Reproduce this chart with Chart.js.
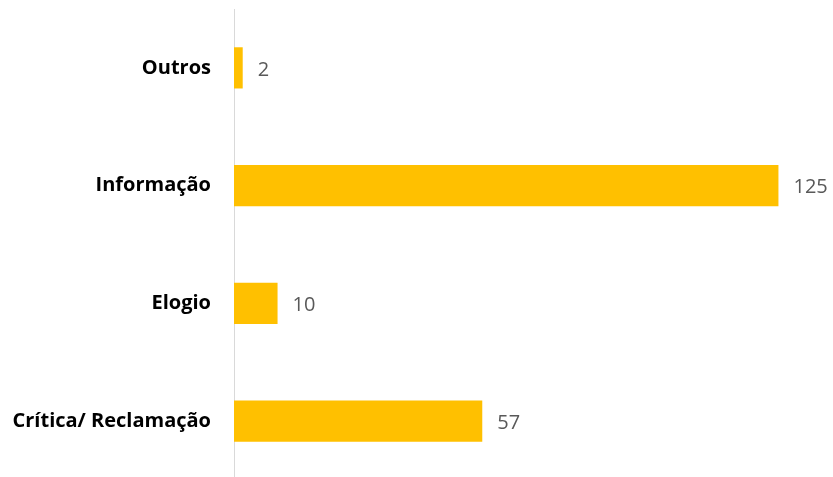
<!DOCTYPE html>
<html>
<head>
<meta charset="utf-8">
<script src="https://cdn.jsdelivr.net/npm/chart.js@4/dist/chart.umd.min.js"></script>
<style>
  html, body { margin: 0; padding: 0; background: #fff; overflow: hidden; }
  #wrap { width: 833px; height: 480px; }
</style>
</head>
<body>
<div id="wrap"><canvas id="myChart" width="833" height="480"></canvas></div>
<script>
const categories = ["Outros", "Informação", "Elogio", "Crítica/ Reclamação"];
const values = [2, 125, 10, 57];

// value labels to the right of each bar
const valueLabels = {
  id: "valueLabels",
  afterDatasetsDraw(chart) {
    const ctx = chart.ctx;
    const meta = chart.getDatasetMeta(0);
    ctx.save();
    ctx.font = "20px 'Open Sans'";
    ctx.fillStyle = "#595959";
    ctx.textBaseline = "middle";
    meta.data.forEach((bar, i) => {
      ctx.fillText(String(values[i]), bar.x + 15, bar.y + 2);
    });
    ctx.restore();
  }
};

const ctx = document.getElementById("myChart").getContext("2d");
new Chart(ctx, {
  type: "bar",
  data: {
    labels: categories,
    datasets: [
      {
        data: values,
        backgroundColor: "#FFC000",
        barPercentage: 0.35,
        categoryPercentage: 1,
      },
    ],
  },
  options: {
    indexAxis: "y",
    responsive: false,
    animation: false,
    layout: { padding: { top: 9, right: 11, bottom: 0, left: 0 } },
    plugins: {
      legend: { display: false },
      tooltip: { enabled: false },
    },
    scales: {
      x: {
        display: false,
        min: 0,
        max: 135,
      },
      y: {
        grid: { display: false, drawTicks: false },
        border: { display: true, color: "#d9d9d9", width: 1 },
        ticks: {
          color: "#000",
          padding: 23,
          font: { family: "'Open Sans'", size: 20, weight: "bold" },
        },
        afterFit(scale) {
          scale.width = 234;
          scale.paddingTop = 0;
          scale.paddingBottom = 0;
        },
      },
    },
  },
  plugins: [valueLabels],
});
</script>
</body>
</html>
